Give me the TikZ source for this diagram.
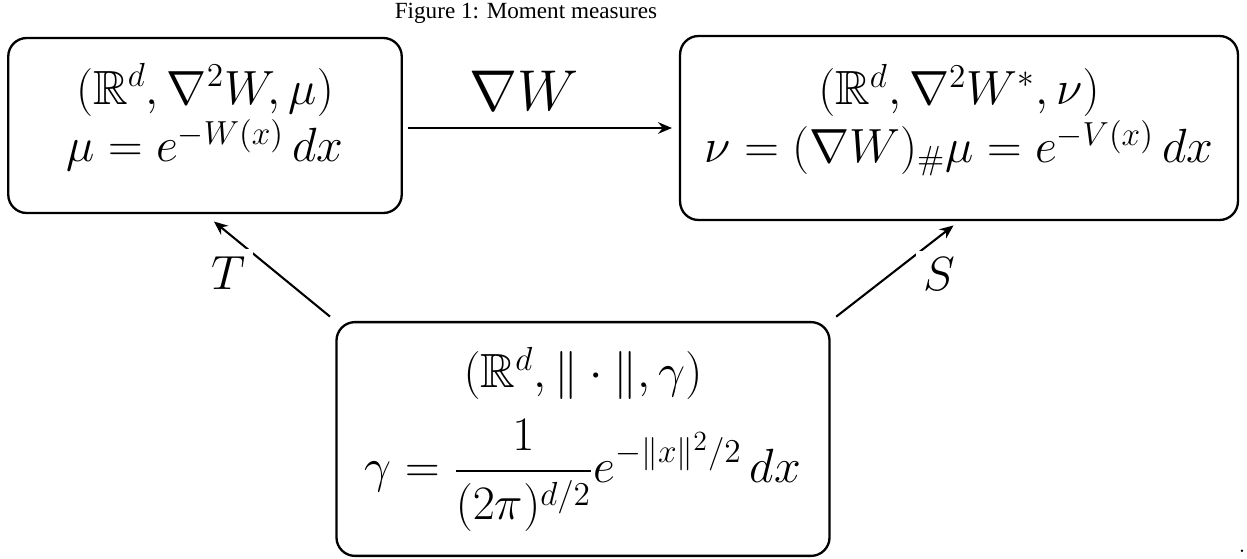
\documentclass[tikz,border=0pt]{standalone}
\usepackage{amsmath,amssymb}
\usepackage{fontspec}
\newfontfamily\capfont{Liberation Serif}
\usetikzlibrary{arrows.meta}
\newcommand{\lift}[1]{\rule[-#1]{0pt}{#1}}
\tikzset{
  space/.style={draw=black,line width=1pt,rounded corners=8pt,align=center,font=\huge,inner sep=6pt},
  map/.style={-{Stealth[length=6pt,width=5pt,inset=2pt]},line width=0.9pt},
  lbl/.style={font=\huge,inner sep=3.3pt},
}

\begin{document}
\begin{tikzpicture}[x=0.432pt,y=-0.432pt]
  \useasboundingbox (0,0) rectangle (1247,558);
  \node[font=\capfont] (cap) at (526,13) {Figure 1: Moment measures};
  \node[space,minimum width=170pt,minimum height=75.6pt] (muspace) at (205,125.5)
    {$(\mathbb{R}^d,\nabla^2 W,\mu)$\\ $\mu=e^{-W(x)}\,dx\lift{11pt}$};
  \node[space,minimum width=241pt,minimum height=79.5pt] (nuspace) at (959,128)
    {$(\mathbb{R}^d,\nabla^2 W^*,\nu)$\\ $\nu=(\nabla W)_{\#}\mu=e^{-V(x)}\,dx\lift{12.5pt}$};
  \node[space,minimum width=213pt,minimum height=101pt] (gspace) at (583,439)
    {$(\mathbb{R}^d,\|\cdot\|,\gamma)$\\[7.5pt] $\displaystyle\gamma=\frac{1}{\rule{0pt}{18pt}(2\pi)^{d/2}}e^{-\|x\|^2/2}\,dx$};
  \node (dot) at (1242,551) {.};
  % maps between the spaces
  \draw[map,shorten <=2pt,shorten >=3pt] (muspace.east |- nuspace.west) -- node[lbl,font=\Huge,pos=0.44,above=4pt] {$\nabla W$} (nuspace.west);
  \draw[map,shorten <=3pt,shorten >=5pt] (gspace.north west) -- node[lbl,fill=white,pos=0.67,anchor=north east,xshift=2.8pt,yshift=0.5pt] {$T$} (muspace.south);
  \draw[map,shorten <=3pt,shorten >=3pt] (gspace.north east) -- node[lbl,fill=white,pos=0.716,anchor=north west,xshift=-3.2pt] {$S$} (nuspace.south);
\end{tikzpicture}
\end{document}
